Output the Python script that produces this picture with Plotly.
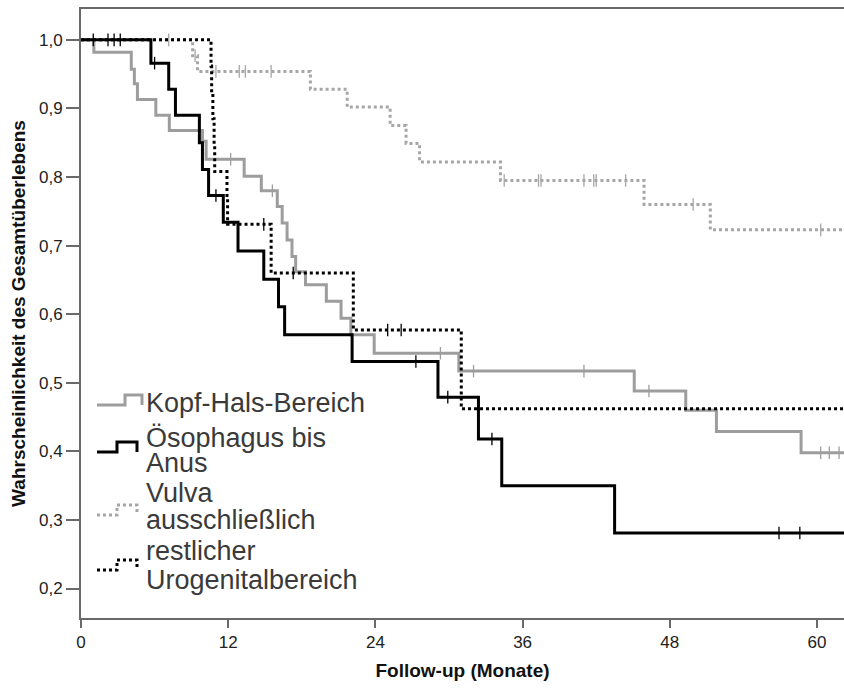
import plotly.graph_objects as go

X_MAX = 62.2

# Kaplan-Meier event times (months) and survival after each event
kh_t = [1.05, 4.1, 4.35, 4.6, 6.1, 7.2, 9.9, 10.2, 13.3, 14.7, 16.0, 16.4, 16.8,
        17.2, 17.5, 18.3, 20.0, 21.2, 22.0, 23.9, 30.8, 45.1, 49.3, 51.8, 58.7]
kh_s = [0.982, 0.957, 0.936, 0.913, 0.890, 0.868, 0.852, 0.826, 0.801, 0.780,
        0.757, 0.733, 0.708, 0.684, 0.662, 0.643, 0.619, 0.594, 0.570, 0.543,
        0.517, 0.488, 0.460, 0.429, 0.398]
kh_c = [12.2, 15.6, 29.3, 32.0, 41.0, 46.3, 60.3, 61.0, 61.8]

oe_t = [5.7, 7.15, 7.7, 9.65, 9.9, 10.4, 11.6, 12.8, 14.9, 16.1, 16.6, 22.1,
        29.1, 32.4, 34.3, 43.5]
oe_s = [0.966, 0.928, 0.890, 0.850, 0.811, 0.773, 0.734, 0.692, 0.651, 0.611,
        0.570, 0.531, 0.479, 0.418, 0.350, 0.281]
oe_c = [1.0, 2.2, 2.7, 3.2, 6.0, 11.0, 27.3, 29.9, 33.5, 56.9, 58.6]

vu_t = [9.1, 9.5, 18.7, 21.7, 25.2, 26.5, 27.6, 34.2, 45.9, 51.3]
vu_s = [0.977, 0.954, 0.928, 0.902, 0.875, 0.849, 0.822, 0.795, 0.760, 0.723]
vu_c = [7.15, 9.3, 11.0, 12.9, 13.4, 15.5, 34.5, 37.3, 37.5, 41.0, 41.8, 42.0,
        44.4, 49.9, 60.3]

ur_t = [10.6, 10.65, 10.75, 10.85, 10.9, 11.9, 11.95, 15.5, 22.2, 31.0]
ur_s = [0.962, 0.923, 0.885, 0.846, 0.808, 0.769, 0.731, 0.660, 0.577, 0.462]
ur_c = [14.9, 17.3, 25.0, 26.1]

groups = ["Kopf-Hals-Bereich", "Ösophagus bis Anus", "Vulva ausschließlich",
          "restlicher Urogenitalbereich"]
legend_lines = [["Kopf-Hals-Bereich"], ["Ösophagus bis", "Anus"],
                ["Vulva", "ausschließlich"], ["restlicher", "Urogenitalbereich"]]

y_ticks = [0.2, 0.3, 0.4, 0.5, 0.6, 0.7, 0.8, 0.9, 1.0]
x_ticks = [0, 12, 24, 36, 48, 60]

GRAY = "#9d9d9d"
VGRAY = "#a6a6a6"
BLACK = "#000000"
AXIS = "#6a6a6a"
TEXT = "#3a3a3a"
NARROW = "Liberation Sans Narrow, Arial Narrow, Liberation Sans, Arial, sans-serif"
SANS = "Liberation Sans, Arial, sans-serif"

styles = [
    dict(color=GRAY, width=3, dash="solid"),
    dict(color=BLACK, width=3, dash="solid"),
    dict(color=VGRAY, width=3, dash="dot"),
    dict(color=BLACK, width=3, dash="dot"),
]
data = [(kh_t, kh_s, kh_c), (oe_t, oe_s, oe_c), (vu_t, vu_s, vu_c), (ur_t, ur_s, ur_c)]


def surv_at(times, surv, t):
    s = 1.0
    for ti, si in zip(times, surv):
        if ti <= t:
            s = si
    return s


fig = go.Figure()
draw_order = [2, 0, 1, 3]
for i in draw_order:
    t, s, c = data[i]
    st = styles[i]
    fig.add_trace(go.Scatter(
        x=[0] + t + [X_MAX], y=[1.0] + s + [s[-1]],
        mode="lines", line_shape="hv", name=groups[i],
        line=dict(color=st["color"], width=st["width"], dash=st["dash"]),
        hoverinfo="skip", showlegend=False, cliponaxis=False,
    ))
# censored observations as small vertical ticks
for i in draw_order:
    t, s, c = data[i]
    st = styles[i]
    fig.add_trace(go.Scatter(
        x=c, y=[surv_at(t, s, ci) for ci in c], mode="markers",
        marker=dict(symbol="line-ns-open", size=9, color=st["color"],
                    line=dict(color=st["color"], width=1.3)),
        hoverinfo="skip", showlegend=False,
    ))

# plot area in pixels
L, R, T, B, W, H = 81, 0, 9, 70, 844, 688
PW, PH = W - L - R, H - T - B


def px(x):
    return (x - L) / PW


def py(y):
    return (H - B - y) / PH


# hand-built legend: step-shaped keys with text to their right
key_rows = [405, 452, 515, 570]
text_rows = [[403], [438, 463], [493, 520], [551, 580]]
shapes = []
annotations = []
for i in range(4):
    yb = key_rows[i]
    yt = yb - 10
    if i == 0:
        xs = [97, 125, 125, 142, 142]
    else:
        xs = [97, 117, 117, 137, 137]
    ys = [yb, yb, yt, yt, yb]
    path = "M " + " L ".join(f"{px(a):.5f},{py(b):.5f}" for a, b in zip(xs, ys))
    st = styles[i]
    shapes.append(dict(type="path", xref="paper", yref="paper", path=path,
                       line=dict(color=st["color"], width=3, dash=st["dash"])))
    for line_txt, yc in zip(legend_lines[i], text_rows[i]):
        annotations.append(dict(
            text=line_txt, xref="paper", yref="paper", x=px(144), y=py(yc),
            xanchor="left", yanchor="middle", showarrow=False,
            font=dict(family=SANS, size=27, color=TEXT)))

fig.update_layout(
    width=W, height=H,
    margin=dict(l=L, r=R, t=T, b=B, pad=0),
    paper_bgcolor="white", plot_bgcolor="white",
    separators=",.",
    showlegend=False,
    shapes=shapes, annotations=annotations,
    xaxis=dict(
        range=[0, X_MAX], tickvals=x_ticks, ticks="outside", ticklen=8,
        tickwidth=1.5, tickcolor=AXIS, showline=True, linecolor=AXIS,
        linewidth=2, mirror=True, showgrid=False, zeroline=False,
        tickfont=dict(family=NARROW, size=17, color="#222222"),
        title=dict(text="<b>Follow-up (Monate)</b>", standoff=12,
                   font=dict(family=NARROW, size=19, color="#111111")),
    ),
    yaxis=dict(
        range=[0.157, 1.045], tickvals=y_ticks, tickformat=".1f",
        ticks="outside", ticklen=13, tickwidth=1.5, tickcolor=AXIS,
        showline=True, linecolor=AXIS, linewidth=2, showgrid=False,
        zeroline=False,
        tickfont=dict(family=SANS, size=17, color="#222222"),
        title=dict(text="<b>Wahrscheinlichkeit des Gesamtüberlebens</b>",
                   standoff=8,
                   font=dict(family=NARROW, size=19, color="#111111")),
    ),
)

fig.write_html("out.html")
